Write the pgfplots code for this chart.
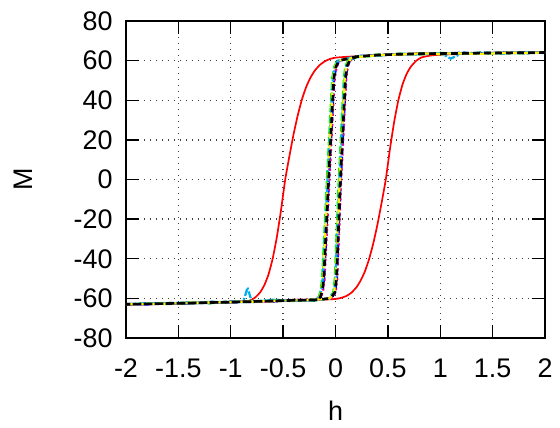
\documentclass[border=0pt]{standalone}
\usepackage{fontspec}
\setmainfont{Liberation Sans}
\usepackage{pgfplots}
\pgfplotsset{compat=1.18}
\usetikzlibrary{calc}

\pgfplotstableread{
h M
2 64.1
1.5 63.8
1.0 63.6
0.6 63.2
0.4 62.8
0.2 62.2
0.1 61.9
0.0 61.5
-0.05 60.9
-0.10 59.7
-0.15 57.8
-0.20 54.8
-0.24 51.3
-0.28 46.7
-0.32 40.5
-0.36 32.5
-0.40 22.9
-0.44 11.8
-0.48 0
-0.52 -15.4
-0.56 -29.1
-0.60 -40
-0.64 -48
-0.68 -53.4
-0.72 -57
-0.77 -59.7
-0.82 -61.2
-0.9 -61.7
-1.0 -61.9
-1.5 -62.5
-2 -63
-1.5 -62.5
-1.0 -61.9
-0.6 -61.3
-0.4 -61.0
-0.2 -60.8
-0.1 -60.6
0.0 -60.3
0.05 -59.8
0.10 -58.9
0.15 -57.2
0.20 -54.4
0.24 -51.0
0.28 -46.5
0.32 -40.3
0.36 -32.4
0.40 -22.8
0.44 -11.8
0.48 0
0.52 15.4
0.56 29.1
0.60 40
0.64 48
0.68 53.4
0.72 57
0.77 59.9
0.82 61.6
0.9 62.5
1.0 63.0
1.5 63.8
2 64.1
}\redloop

\pgfplotstableread{
h M
2 64.3
1.8 63.6
1.6 64.2
1.4 63.5
1.2 63.9
1.0 63.2
0.8 63.8
0.6 62.9
0.4 63.1
0.2 61.6
0.018 60
-0.012 57
-0.032 51
-0.082 0
-0.128 -50
-0.142 -56
-0.162 -59.5
-0.2 -60.5
-0.4 -61.4
-0.6 -60.9
-0.8 -61.9
-1.0 -61.5
-1.2 -62.5
-1.4 -62.0
-1.6 -62.9
-1.8 -62.5
-2.0 -63.2
-1.8 -62.6
-1.6 -62.3
-1.4 -62.7
-1.2 -61.8
-1.0 -62.2
-0.8 -61.2
-0.6 -61.6
-0.4 -60.8
-0.2 -61.1
-0.062 -60
-0.022 -57
-0.007 -50
0.031 0
0.079 51
0.093 57
0.118 60
0.2 61.8
0.4 62.5
0.6 63.5
0.8 63.2
1.0 63.9
1.2 63.4
1.4 64.1
1.6 63.6
1.8 64.2
2.0 63.9
}\greenloop

\pgfplotstableread{
h M
2 63.9
1.8 64.2
1.6 63.7
1.4 64.0
1.2 63.4
1.0 63.8
0.8 63.3
0.6 63.4
0.4 62.6
0.2 62.2
0.038 60
0.008 57
-0.012 51
-0.062 0
-0.108 -50
-0.122 -56
-0.142 -59.5
-0.2 -61.0
-0.4 -60.8
-0.6 -61.6
-0.8 -61.3
-1.0 -62.2
-1.2 -61.8
-1.4 -62.6
-1.6 -62.3
-1.8 -63.1
-2.0 -62.8
-1.8 -63.0
-1.6 -62.5
-1.4 -62.2
-1.2 -62.4
-1.0 -61.6
-0.8 -61.9
-0.6 -61.0
-0.4 -61.3
-0.2 -60.6
-0.042 -60
-0.002 -57
0.013 -50
0.051 0
0.099 51
0.113 57
0.138 60
0.2 62.3
0.4 62.9
0.6 62.9
0.8 63.7
1.0 63.4
1.2 64.0
1.4 63.6
1.6 64.2
1.8 63.8
2.0 64.3
}\blueloop

\pgfplotstableread{
h M
2 64.0
1.8 63.7
1.6 64.1
1.4 63.6
1.2 63.8
1.0 63.3
0.8 63.6
0.6 63.0
0.4 62.9
0.2 61.9
0.042 60
0.012 57
-0.008 51
-0.058 0
-0.104 -50
-0.118 -56
-0.138 -59.5
-0.2 -60.9
-0.4 -60.7
-0.6 -61.5
-0.8 -61.8
-1.0 -61.7
-1.2 -62.3
-1.4 -62.2
-1.6 -62.8
-1.8 -62.6
-2.0 -63.1
-1.8 -62.9
-1.6 -62.4
-1.4 -62.6
-1.2 -62.0
-1.0 -62.1
-0.8 -61.4
-0.6 -61.5
-0.4 -60.9
-0.2 -60.4
-0.038 -60
0.002 -57
0.017 -50
0.055 0
0.103 51
0.117 57
0.142 60
0.2 61.9
0.4 62.7
0.6 63.3
0.8 63.4
1.0 63.8
1.2 63.6
1.4 63.9
1.6 63.8
1.8 64.1
2.0 64.0
}\magentaloop

\pgfplotstableread{
h M
2 63.8
1.8 64.3
1.6 63.6
1.4 63.9
1.2 63.5
1.1 61.0
1.0 63.9
0.8 63.1
0.6 63.4
0.4 62.5
0.2 62.1
0.024 60
-0.006 57
-0.026 51
-0.076 0
-0.122 -50
-0.136 -56
-0.156 -59.5
-0.2 -60.6
-0.4 -61.2
-0.6 -61.0
-0.8 -61.5
-0.84 -54.5
-0.88 -61.8
-1.0 -62.0
-1.2 -61.7
-1.4 -62.5
-1.6 -62.4
-1.8 -62.7
-2.0 -62.9
-1.8 -62.4
-1.6 -62.8
-1.4 -61.9
-1.2 -62.3
-1.0 -61.7
-0.8 -61.8
-0.6 -60.7
-0.4 -61.2
-0.2 -60.9
-0.056 -60
-0.016 -57
-0.001 -50
0.037 0
0.085 51
0.099 57
0.124 60
0.2 62.1
0.4 62.6
0.6 63.3
0.8 63.1
1.0 63.7
1.2 63.9
1.4 63.5
1.6 64.0
1.8 63.7
2.0 64.2
}\cyanloop

\pgfplotstableread{
h M
2 64.2
1.8 63.9
1.6 63.8
1.4 63.4
1.2 63.6
1.0 63.5
0.8 63.2
0.6 63.1
0.4 62.7
0.2 61.8
0.027 60
-0.003 57
-0.023 51
-0.073 0
-0.119 -50
-0.133 -56
-0.153 -59.5
-0.2 -60.7
-0.4 -61.1
-0.6 -61.2
-0.8 -61.7
-1.0 -61.8
-1.2 -62.2
-1.4 -62.1
-1.6 -62.7
-1.8 -62.9
-2.0 -62.9
-1.8 -62.7
-1.6 -62.6
-1.4 -62.3
-1.2 -62.1
-1.0 -61.9
-0.8 -61.5
-0.6 -61.4
-0.4 -61.0
-0.2 -60.7
-0.053 -60
-0.013 -57
0.002 -50
0.040 0
0.088 51
0.102 57
0.127 60
0.2 62.0
0.4 62.8
0.6 63.1
0.8 63.6
1.0 63.5
1.2 63.8
1.4 63.7
1.6 64.0
1.8 63.9
2.0 64.1
}\yellowloop

\pgfplotstableread{
h M
2 64.0
1.8 64.0
1.6 63.8
1.4 63.8
1.2 63.6
1.0 63.6
0.8 63.4
0.6 63.2
0.4 62.8
0.2 62.0
0.034 60
0.004 57
-0.016 51
-0.066 0
-0.112 -50
-0.126 -56
-0.146 -59.5
-0.2 -60.8
-0.4 -61.0
-0.6 -61.3
-0.8 -61.6
-1.0 -61.9
-1.2 -62.1
-1.4 -62.4
-1.6 -62.6
-1.8 -62.8
-2.0 -63.0
-1.8 -62.8
-1.6 -62.6
-1.4 -62.4
-1.2 -62.1
-1.0 -61.9
-0.8 -61.6
-0.6 -61.3
-0.4 -61.0
-0.2 -60.8
-0.046 -60
-0.006 -57
0.009 -50
0.047 0
0.095 51
0.109 57
0.134 60
0.2 62.0
0.4 62.8
0.6 63.2
0.8 63.5
1.0 63.6
1.2 63.7
1.4 63.8
1.6 63.9
1.8 64.0
2.0 64.1
}\blackloop

\begin{document}
\begin{tikzpicture}
\begin{axis}[
  scale only axis,
  width=419bp, height=317bp,
  xmin=-2, xmax=2, ymin=-80, ymax=80,
  xtick={-2,-1.5,...,2},
  ytick={-80,-60,...,80},
  xticklabels={-2,-1.5,-1,-0.5,0,0.5,1,1.5,2},
  yticklabels={-80,-60,-40,-20,0,20,40,60,80},
  tick align=inside,
  major tick length=13bp,
  tick style={black, line width=1.3bp},
  axis line style={black, line width=1.5bp},
  grid=major,
  grid style={black!75, line width=1.3bp, dash pattern=on 1.4bp off 4.6bp},
  tick label style={font=\fontsize{27}{29}\selectfont},
  xticklabel style={yshift=-17bp},
  yticklabel style={xshift=-10bp},
  xlabel={h},
  ylabel={M},
  label style={font=\fontsize{27}{29}\selectfont},
  xlabel style={at={(axis description cs:0.5,0)}, anchor=center, yshift=-73bp},
  ylabel style={at={(axis description cs:0,0.5)}, anchor=center, yshift=103bp},
  /pgf/number format/assume math mode=true,
]
\addplot[red, line width=1.7bp, smooth, tension=0.3] table {\redloop};
\addplot[green, line width=2.2bp, dash pattern=on 8bp off 3bp] table {\greenloop};
\addplot[blue, line width=2.2bp, dash pattern=on 5bp off 3bp] table {\blueloop};
\addplot[magenta, line width=2.2bp, dash pattern=on 2bp off 3bp] table {\magentaloop};
\addplot[cyan, line width=2.2bp, dash pattern=on 7bp off 2bp on 2bp off 2bp] table {\cyanloop};
\addplot[yellow, line width=2.2bp, dash pattern=on 6bp off 4bp] table {\yellowloop};
\addplot[black, line width=2.6bp, dash pattern=on 6bp off 5bp] table {\blackloop};
\end{axis}
\pgfresetboundingbox
\path[use as bounding box] ($(current axis.south west)+(-126bp,-90bp)$) rectangle ($(current axis.north east)+(15bp,21bp)$);
\end{tikzpicture}
\end{document}
